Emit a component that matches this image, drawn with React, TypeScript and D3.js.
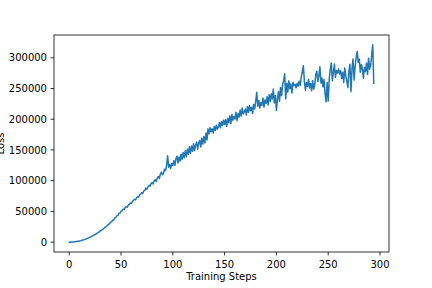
import React from "react";
import * as d3 from "d3";

// Loss values in thousands, one per training step (0..294)
const lossK: number[] = [
  0.0, 0.0, 0.1, 0.2, 0.3, 0.5, 0.7, 1.0, 1.3, 1.6,
  2.0, 2.4, 2.9, 3.4, 3.9, 4.5, 5.1, 5.8, 6.5, 7.2,
  8.1, 8.8, 9.7, 10.4, 11.6, 12.5, 13.3, 14.8, 15.5, 16.7,
  18.2, 19.1, 20.6, 21.5, 23.4, 24.3, 26.0, 27.1, 29.2, 30.0,
  32.5, 33.2, 35.6, 36.4, 39.1, 40.2, 42.8, 43.5, 46.7, 47.3,
  50.2, 51.0, 53.6, 52.8, 56.1, 57.4, 56.9, 60.5, 61.2, 63.8,
  62.9, 66.4, 67.5, 69.8, 68.7, 72.3, 74.0, 73.2, 77.1, 78.0,
  80.6, 79.4, 83.5, 84.2, 87.9, 86.1, 89.8, 92.4, 91.0, 95.2,
  96.8, 94.5, 99.7, 101.3, 98.6, 104.2, 106.9, 103.5, 110.8, 114.0,
  109.6, 112.3, 118.7, 116.2, 124.5, 140.5, 121.8, 126.4, 119.9, 128.1,
  124.6, 132.5, 125.0, 135.9, 139.8, 128.7, 138.6, 131.9, 143.2, 134.8,
  145.9, 137.4, 148.6, 139.1, 151.0, 143.0, 155.2, 144.6, 156.3, 147.8,
  160.0, 149.0, 158.2, 162.7, 151.3, 161.3, 165.9, 154.8, 169.2, 159.6,
  171.8, 161.4, 177.6, 166.2, 184.3, 176.3, 186.0, 179.4, 184.7, 177.5,
  188.2, 181.6, 190.3, 183.9, 187.5, 194.8, 186.2, 196.1, 189.7, 198.5,
  191.3, 199.6, 188.4, 201.2, 194.7, 205.3, 192.9, 207.8, 198.1, 204.6,
  200.3, 211.5, 197.8, 209.2, 203.4, 214.9, 205.1, 218.3, 208.6, 212.0,
  216.4, 206.9, 220.7, 211.3, 222.5, 213.8, 219.4, 209.6, 224.1, 216.8,
  228.5, 243.7, 221.2, 230.6, 218.4, 226.9, 222.3, 234.5, 219.7, 231.2,
  225.8, 236.4, 223.1, 239.8, 228.7, 241.3, 233.0, 249.2, 226.4, 238.6,
  214.3, 232.7, 245.1, 229.4, 251.8, 238.2, 256.4, 262.9, 273.6, 233.5,
  258.7, 244.2, 262.5, 249.8, 257.3, 242.6, 260.1, 254.8, 256.9, 251.2,
  258.4, 253.7, 262.0, 255.3, 268.9, 276.4, 287.2, 262.5, 247.1, 259.6,
  253.3, 264.8, 250.9, 258.2, 246.5, 262.7, 249.0, 255.6, 272.8, 278.3,
  261.4, 270.1, 285.5, 258.9, 267.2, 252.4, 264.6, 240.8, 228.3, 259.7,
  229.5, 265.4, 281.2, 291.6, 262.8, 276.3, 289.7, 268.0, 279.4, 275.1,
  281.8, 273.6, 278.9, 266.2, 276.5, 259.8, 283.4, 270.7, 262.1, 251.5,
  278.2, 289.6, 244.9, 282.3, 298.1, 263.7, 285.4, 301.2, 310.3, 292.5,
  297.8, 276.4, 289.1, 281.7, 266.8, 284.2, 277.6, 291.3, 272.9, 299.4,
  281.5, 287.3, 304.6, 321.0, 258.7,
];

const xTicks: number[] = [0, 50, 100, 150, 200, 250, 300];
const yTicks: number[] = [0, 50000, 100000, 150000, 200000, 250000, 300000];
const xLabel = "Training Steps";
const yLabel = "Loss";

const W = 432;
const H = 288;
const left = 54;
const right = 389;
const top = 35;
const bottom = 252;
const FONT = "DejaVu Sans, sans-serif";

export default function App() {
  const data = lossK.map((v, i) => ({ step: i, loss: v * 1000 }));
  const xExt = d3.extent(data, (d) => d.step) as [number, number];
  const yExt = d3.extent(data, (d) => d.loss) as [number, number];
  const xPad = (xExt[1] - xExt[0]) * 0.05;
  const yPad = (yExt[1] - yExt[0]) * 0.05;
  const x = d3.scaleLinear().domain([xExt[0] - xPad, xExt[1] + xPad]).range([left, right]);
  const y = d3.scaleLinear().domain([yExt[0] - yPad, yExt[1] + yPad]).range([bottom, top]);
  const line = d3
    .line<{ step: number; loss: number }>()
    .x((d) => x(d.step))
    .y((d) => y(d.loss));

  return (
    <svg
      width={W}
      height={H}
      style={{ position: "absolute", left: 0, top: 0, background: "#fff" }}
      fontFamily={FONT}
    >
      <rect x={0} y={0} width={W} height={H} fill="#fff" />
      <path d={line(data) || ""} fill="none" stroke="#1f77b4" strokeWidth={1.5} strokeLinejoin="round" strokeLinecap="square" />
      <rect x={left} y={top} width={right - left} height={bottom - top} fill="none" stroke="#000" strokeWidth={0.8} />
      {xTicks.map((t) => (
        <g key={"x" + t}>
          <line x1={x(t)} x2={x(t)} y1={bottom} y2={bottom + 3.5} stroke="#000" strokeWidth={0.8} />
          <text x={x(t)} y={bottom + 16.3} textAnchor="middle" fontSize={10} fill="#000">
            {t}
          </text>
        </g>
      ))}
      {yTicks.map((t) => (
        <g key={"y" + t}>
          <line x1={left - 3.5} x2={left} y1={y(t)} y2={y(t)} stroke="#000" strokeWidth={0.8} />
          <text x={left - 7} y={y(t) + 3.6} textAnchor="end" fontSize={10} fill="#000">
            {t}
          </text>
        </g>
      ))}
      <text x={(left + right) / 2} y={280} textAnchor="middle" fontSize={10} fill="#000">
        {xLabel}
      </text>
      <text
        transform={`translate(3.5,${(top + bottom) / 2}) rotate(-90)`}
        textAnchor="middle"
        fontSize={10}
        fill="#000"
      >
        {yLabel}
      </text>
    </svg>
  );
}
